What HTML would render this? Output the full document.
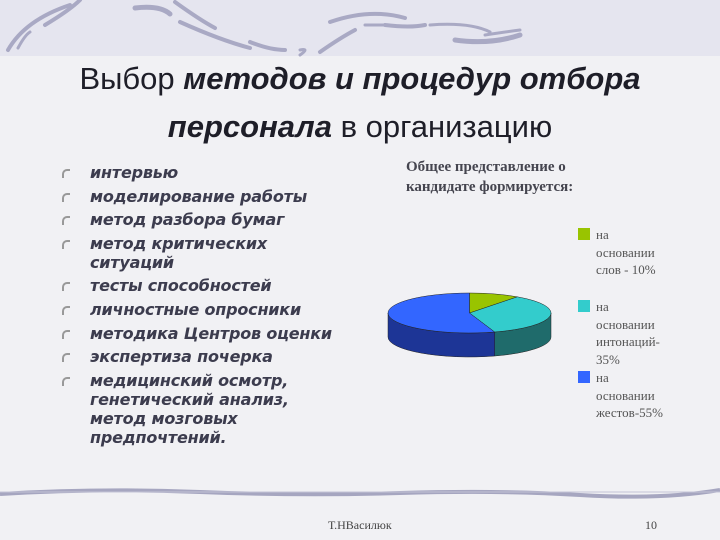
<!DOCTYPE html>
<html><head><meta charset="utf-8"><style>
html,body{margin:0;padding:0}
body{width:720px;height:540px;position:relative;overflow:hidden;background:#f1f1f4;font-family:"Liberation Sans",sans-serif}
.band{position:absolute;left:0;top:0;width:720px;height:56px;background:#e5e5ef}
.title{position:absolute;left:0;width:720px;text-align:center;color:#1e1e28;font-size:31px;line-height:36px}
.title b{font-style:italic}
ul{position:absolute;left:62px;top:163px;margin:0;padding:0;list-style:none;width:300px}
li{position:relative;padding-left:28px;color:#3c3c4e;font-weight:bold;font-style:italic;font-size:16px;line-height:19px;margin-bottom:4.6px;font-family:"DejaVu Sans",sans-serif;letter-spacing:-0.2px}
li:before{content:"";position:absolute;left:0;top:6px;width:6px;height:7px;border-radius:5px 0 0 0;border-left:2px solid #999;border-top:2px solid #999}
.ph{position:absolute;left:406px;top:157px;font-family:"Liberation Serif",serif;font-weight:bold;color:#45454f;font-size:15px;line-height:20px}
.lg{position:absolute;left:596px;font-family:"Liberation Serif",serif;color:#555;font-size:13px;line-height:17.5px}
.sw{position:absolute;left:578px;width:12px;height:12px}
.foot{position:absolute;top:518px;font-family:"Liberation Serif",serif;font-size:12px;color:#444}
</style></head><body>
<div class="band"></div>
<svg style="position:absolute;left:0;top:0" width="720" height="540">
<g stroke="#a9a9c4" stroke-linecap="round" fill="none">
<path d="M8 50 Q25 20 70 5" stroke-width="4"/><path d="M45 25 Q70 10 80 0" stroke-width="4"/><path d="M18 48 Q25 35 30 32" stroke-width="3"/>
<path d="M135 8 Q160 5 170 14" stroke-width="5"/><path d="M175 2 Q200 20 215 28" stroke-width="4"/><path d="M180 22 Q220 40 250 48" stroke-width="4"/><path d="M250 42 Q270 50 285 50" stroke-width="4"/><path d="M300 55 Q310 48 300 50" stroke-width="3"/><path d="M320 52 Q340 38 355 30" stroke-width="4"/>
<path d="M330 22 Q370 8 405 18" stroke-width="4"/><path d="M385 25 L365 25" stroke-width="3"/><path d="M385 25 Q410 28 425 25" stroke-width="4"/><path d="M430 25 Q470 22 490 32" stroke-width="3"/><path d="M455 40 Q490 45 520 35" stroke-width="5"/><path d="M485 35 Q505 32 520 30" stroke-width="3"/>
</g>
<path d="M0 494 Q100 488 200 492 T400 493 T580 495 T720 490" stroke="#a6a6c0" stroke-width="4" fill="none"/>
<path d="M0 492 L720 492" stroke="#c4c4d6" stroke-width="1" fill="none"/>
</svg>
<div class="title" style="top:61px">Выбор <b>методов и процедур отбора</b></div>
<div class="title" style="top:109px"><b>персонала</b> в организацию</div>
<ul>
<li>интервью</li>
<li>моделирование работы</li>
<li>метод разбора бумаг</li>
<li>метод критических<br>ситуаций</li>
<li>тесты способностей</li>
<li>личностные опросники</li>
<li>методика Центров оценки</li>
<li>экспертиза почерка</li>
<li>медицинский осмотр,<br>генетический анализ,<br>метод мозговых<br>предпочтений.</li>
</ul>
<div class="ph">Общее представление о<br>кандидате формируется:</div>
<svg id="pie" style="position:absolute;left:0;top:0" width="720" height="540"></svg>
<div class="sw" style="top:228px;background:#99c400"></div>
<div class="lg" style="top:226px">на<br>основании<br>слов - 10%</div>
<div class="sw" style="top:300px;background:#33cccc"></div>
<div class="lg" style="top:298px">на<br>основании<br>интонаций-<br>35%</div>
<div class="sw" style="top:371px;background:#3366ff"></div>
<div class="lg" style="top:369px">на<br>основании<br>жестов-55%</div>
<div class="foot" style="left:328px">Т.НВасилюк</div>
<div class="foot" style="left:645px">10</div>
<script>
const categories = ["слов", "интонаций", "жестов"];
const values = [10, 35, 55];
const topColors = ["#99c400", "#33cccc", "#3366ff"];
const sideColors = ["#5f7a00", "#1f6b6b", "#1d3596"];
const svg = document.getElementById('pie');
const NS = 'http://www.w3.org/2000/svg';
const cx = 469.5, cy = 313, rx = 81.5, ry = 20, depth = 24;
const total = values.reduce((a, b) => a + b, 0);
function pt(a, dy) { return [cx + rx * Math.cos(a), cy + ry * Math.sin(a) + (dy || 0)]; }
let start = -Math.PI / 2;
const slices = values.map((v, i) => { const s = start; const e = start + v / total * 2 * Math.PI; start = e; return { s, e, i }; });
slices.forEach(sl => {
  const segs = [];
  for (let k = -1; k <= 1; k++) {
    const a0 = Math.max(sl.s, 0 + k * 2 * Math.PI), a1 = Math.min(sl.e, Math.PI + k * 2 * Math.PI);
    if (a1 > a0) segs.push([a0, a1]);
  }
  segs.forEach(([a0, a1]) => {
    const p0 = pt(a0), p1 = pt(a1), q1 = pt(a1, depth), q0 = pt(a0, depth);
    const p = document.createElementNS(NS, 'path');
    p.setAttribute('d', `M${p0} A${rx} ${ry} 0 0 1 ${p1} L${q1} A${rx} ${ry} 0 0 0 ${q0} Z`);
    p.setAttribute('fill', sideColors[sl.i]);
    p.setAttribute('stroke', '#222'); p.setAttribute('stroke-width', '0.5');
    
    
    svg.appendChild(p);
  });
});
slices.forEach(sl => {
  const p0 = pt(sl.s), p1 = pt(sl.e);
  const large = (sl.e - sl.s) > Math.PI ? 1 : 0;
  const p = document.createElementNS(NS, 'path');
  p.setAttribute('d', `M${cx},${cy} L${p0} A${rx} ${ry} 0 ${large} 1 ${p1} Z`);
  p.setAttribute('fill', topColors[sl.i]);
  p.setAttribute('stroke', '#222'); p.setAttribute('stroke-width', '0.5');
  
  
  svg.appendChild(p);
});
</script>
</body></html>
